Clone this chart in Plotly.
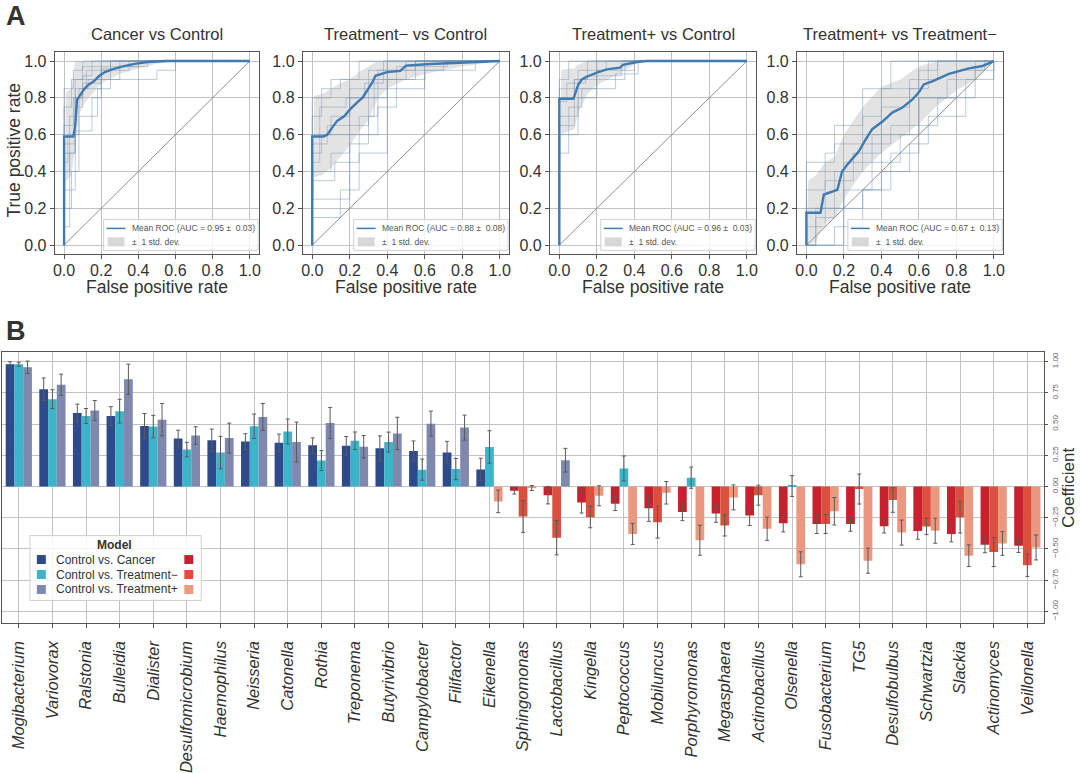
import plotly.graph_objects as go

W, H = 1080, 773
FONT = "Liberation Sans, Arial, sans-serif"
TXT = "#333333"

# ---------------- Panel A data ----------------
roc_titles = ["Cancer vs Control", "Treatment− vs Control", "Treatment+ vs Control", "Treatment+ vs Treatment−"]
auc_labels = ["Mean ROC (AUC = 0.95 ±\u00a0 0.03)", "Mean ROC (AUC = 0.88 ±\u00a0 0.08)",
              "Mean ROC (AUC = 0.96 ±\u00a0 0.03)", "Mean ROC (AUC = 0.67 ±\u00a0 0.13)"]
std_label = "±\u00a0 1 std. dev."
chance = [0.0, 1.0]

mean_fpr_1 = [0, 0, 0.05, 0.06, 0.07, 0.09, 0.11, 0.13, 0.16, 0.19, 0.22, 0.26, 0.31, 0.38, 0.45, 0.55, 1.0]
mean_tpr_1 = [0, 0.59, 0.59, 0.65, 0.79, 0.82, 0.85, 0.87, 0.89, 0.92, 0.94, 0.955, 0.97, 0.985, 0.995, 1.0, 1.0]
mean_fpr_2 = [0, 0, 0.06, 0.08, 0.107, 0.133, 0.17, 0.204, 0.24, 0.267, 0.293, 0.32, 0.337, 0.4, 0.47, 0.5, 0.63, 0.8, 1.0]
mean_tpr_2 = [0, 0.59, 0.59, 0.6, 0.64, 0.675, 0.70, 0.74, 0.776, 0.80, 0.84, 0.884, 0.92, 0.94, 0.947, 0.975, 0.984, 0.992, 1.0]
mean_fpr_3 = [0, 0, 0.075, 0.085, 0.1, 0.12, 0.146, 0.2, 0.253, 0.324, 0.34, 0.413, 0.466, 1.0]
mean_tpr_3 = [0, 0.795, 0.795, 0.83, 0.87, 0.90, 0.915, 0.937, 0.955, 0.964, 0.98, 0.995, 1.0, 1.0]
mean_fpr_4 = [0, 0, 0.075, 0.093, 0.165, 0.19, 0.226, 0.28, 0.316, 0.351, 0.404, 0.458, 0.51, 0.564, 0.6, 0.626, 0.671, 0.76, 0.867, 0.938, 1.0]
mean_tpr_4 = [0, 0.176, 0.176, 0.275, 0.30, 0.40, 0.447, 0.51, 0.574, 0.63, 0.67, 0.72, 0.746, 0.79, 0.83, 0.873, 0.89, 0.93, 0.96, 0.973, 1.0]

band_fpr_1 = [0, 0.01, 0.04, 0.06, 0.08, 0.1, 0.15, 0.2, 0.3, 0.4, 0.5, 0.6, 1.0]
band_lo_1 = [0, 0.35, 0.38, 0.55, 0.70, 0.76, 0.82, 0.88, 0.93, 0.96, 0.985, 1.0, 1.0]
band_hi_1 = [0, 0.83, 0.85, 1.0, 1.0, 1.0, 1.0, 1.0, 1.0, 1.0, 1.0, 1.0, 1.0]
band_fpr_2 = [0, 0.01, 0.05, 0.1, 0.15, 0.2, 0.25, 0.3, 0.35, 0.4, 0.5, 0.6, 0.7, 0.8, 0.9, 1.0]
band_lo_2 = [0, 0.37, 0.38, 0.42, 0.48, 0.54, 0.62, 0.68, 0.80, 0.85, 0.90, 0.93, 0.95, 0.97, 0.985, 1.0]
band_hi_2 = [0, 0.81, 0.82, 0.85, 0.88, 0.90, 0.94, 0.97, 1.0, 1.0, 1.0, 1.0, 1.0, 1.0, 1.0, 1.0]
band_fpr_3 = [0, 0.01, 0.05, 0.08, 0.1, 0.15, 0.2, 0.3, 0.4, 0.45, 1.0]
band_lo_3 = [0, 0.60, 0.62, 0.63, 0.72, 0.82, 0.87, 0.92, 0.98, 1.0, 1.0]
band_hi_3 = [0, 0.95, 0.96, 0.96, 0.98, 1.0, 1.0, 1.0, 1.0, 1.0, 1.0]
band_fpr_4 = [0, 0.01, 0.05, 0.1, 0.15, 0.2, 0.3, 0.4, 0.5, 0.6, 0.7, 0.8, 0.9, 1.0]
band_lo_4 = [0, 0.0, 0.02, 0.12, 0.15, 0.25, 0.40, 0.50, 0.58, 0.66, 0.76, 0.84, 0.90, 1.0]
band_hi_4 = [0, 0.35, 0.38, 0.45, 0.48, 0.60, 0.75, 0.86, 0.90, 0.97, 1.0, 1.0, 1.0, 1.0]

# individual cross-validation folds (step curves: at fpr x the tpr jumps to y)
folds_1 = [
    ([0, 0, 0.06, 0.12, 0.25, 1], [0, 0.55, 0.85, 0.95, 1, 1]),
    ([0, 0, 0.03, 0.06, 0.2, 0.35, 1], [0, 0.4, 0.7, 0.9, 0.95, 1, 1]),
    ([0, 0, 0.05, 0.1, 0.2, 0.5, 0.6, 1], [0, 0.65, 0.8, 0.85, 0.9, 0.95, 1, 1]),
    ([0, 0, 0.06, 0.1, 0.15, 1], [0, 0.3, 0.8, 0.92, 1, 1]),
    ([0, 0, 0.04, 0.1, 0.4, 1], [0, 0.75, 0.9, 0.97, 1, 1]),
    ([0, 0, 0.06, 0.15, 0.2, 0.3, 0.45, 1], [0, 0.5, 0.62, 0.8, 0.9, 0.97, 1, 1]),
    ([0, 0, 0.05, 0.1, 1], [0, 0.85, 0.95, 1, 1]),
    ([0, 0, 0.03, 0.06, 0.1, 0.2, 0.3, 1], [0, 0.1, 0.5, 0.75, 0.88, 0.96, 1, 1]),
    ([0, 0, 0.02, 0.08, 0.18, 0.25, 1], [0, 0.45, 0.6, 0.7, 0.85, 1, 1]),
    ([0, 0, 0.04, 0.08, 0.13, 0.2, 1], [0, 0.2, 0.4, 0.85, 0.9, 1, 1]),
]
folds_2 = [
    ([0, 0, 0.1, 0.2, 0.35, 0.5, 1], [0, 0.6, 0.7, 0.85, 0.95, 1, 1]),
    ([0, 0, 0.1, 0.2, 0.3, 0.4, 0.6, 0.7, 1], [0, 0.4, 0.5, 0.65, 0.8, 0.9, 0.95, 1, 1]),
    ([0, 0, 0.05, 0.15, 0.25, 1], [0, 0.7, 0.85, 0.9, 1, 1]),
    ([0, 0, 0.12, 0.25, 0.35, 0.45, 0.55, 1], [0, 0.35, 0.45, 0.6, 0.75, 0.9, 1, 1]),
    ([0, 0, 0.1, 0.3, 0.4, 1], [0, 0.8, 0.9, 0.95, 1, 1]),
    ([0, 0, 0.05, 0.25, 0.33, 0.5, 0.87, 1], [0, 0.5, 0.6, 0.7, 0.9, 0.95, 1, 1]),
    ([0, 0, 0.15, 0.25, 0.4, 0.55, 1], [0, 0.15, 0.3, 0.5, 0.95, 1, 1]),
    ([0, 0, 0.08, 0.2, 0.3, 0.45, 0.72, 1], [0, 0.55, 0.65, 0.8, 0.9, 0.97, 1, 1]),
    ([0, 0, 0.04, 0.18, 0.28, 0.38, 1], [0, 0.45, 0.75, 0.8, 0.88, 1, 1]),
    ([0, 0, 0.2, 0.3, 0.35, 0.6, 1], [0, 0.25, 0.55, 0.7, 0.85, 1, 1]),
]
folds_3 = [
    ([0, 0, 0.08, 0.15, 1], [0, 0.8, 0.9, 1, 1]),
    ([0, 0, 0.1, 0.2, 0.4, 1], [0, 0.6, 0.85, 0.95, 1, 1]),
    ([0, 0, 0.05, 1], [0, 0.9, 1, 1]),
    ([0, 0, 0.05, 0.12, 0.3, 0.42, 1], [0, 0.5, 0.75, 0.85, 0.93, 1, 1]),
    ([0, 0, 0.1, 0.2, 0.35, 1], [0, 0.7, 0.8, 0.9, 1, 1]),
    ([0, 0, 0.1, 0.25, 1], [0, 0.85, 0.95, 1, 1]),
    ([0, 0, 0.08, 0.2, 1], [0, 0.65, 0.9, 1, 1]),
    ([0, 0, 0.04, 0.14, 0.33, 1], [0, 0.78, 0.88, 0.92, 1, 1]),
]
folds_4 = [
    ([0, 0, 0.1, 0.25, 0.4, 0.55, 0.7, 1], [0, 0.1, 0.35, 0.5, 0.75, 0.9, 1, 1]),
    ([0, 0.05, 0.2, 0.35, 0.5, 0.6, 0.8, 0.95, 1], [0, 0.2, 0.3, 0.45, 0.6, 0.8, 0.95, 1, 1]),
    ([0, 0, 0.1, 0.15, 0.3, 0.45, 1], [0, 0.3, 0.5, 0.65, 0.85, 1, 1]),
    ([0, 0.2, 0.3, 0.4, 0.55, 0.65, 0.85, 1], [0, 0.2, 0.3, 0.4, 0.55, 0.7, 0.9, 1]),
    ([0, 0, 0.15, 0.3, 0.4, 0.6, 0.7, 1], [0, 0.45, 0.55, 0.7, 0.85, 0.95, 1, 1]),
    ([0, 0.05, 0.15, 0.3, 0.45, 0.6, 0.75, 0.9, 1], [0, 0.15, 0.4, 0.55, 0.65, 0.8, 0.9, 1, 1]),
    ([0, 0, 0.2, 0.35, 0.55, 0.65, 1], [0, 0.2, 0.45, 0.6, 0.85, 1, 1]),
    ([0, 0.15, 0.3, 0.45, 0.6, 0.7, 0.9, 1], [0, 0.1, 0.3, 0.5, 0.65, 0.8, 0.95, 1]),
]

# ---------------- Panel B data ----------------
genera = ["Mogibacterium", "Variovorax", "Ralstonia", "Bulleidia", "Dialister", "Desulfomicrobium",
          "Haemophilus", "Neisseria", "Catonella", "Rothia", "Treponema", "Butyrivibrio",
          "Campylobacter", "Filifactor", "Eikenella", "Sphingomonas", "Lactobacillus", "Kingella",
          "Peptococcus", "Mobiluncus", "Porphyromonas", "Megasphaera", "Actinobacillus", "Olsenella",
          "Fusobacterium", "TG5", "Desulfobulbus", "Schwartzia", "Slackia", "Actinomyces", "Veillonella"]
models = ["Control vs. Cancer", "Control vs. Treatment−", "Control vs. Treatment+"]

coef_cancer = [0.98, 0.78, 0.59, 0.565, 0.485, 0.385, 0.37, 0.36, 0.35, 0.33, 0.327, 0.306, 0.285,
               0.272, 0.137, -0.034, -0.069, -0.127, -0.137, -0.174, -0.203, -0.216, -0.232, -0.293,
               -0.30, -0.30, -0.317, -0.356, -0.38, -0.467, -0.475]
coef_tminus = [0.98, 0.70, 0.565, 0.604, 0.48, 0.296, 0.272, 0.483, 0.441, 0.208, 0.367, 0.356, 0.135,
               0.14, 0.317, -0.24, -0.41, -0.245, 0.145, -0.285, 0.071, -0.311, -0.069, 0.004,
               -0.30, -0.02, -0.108, -0.319, -0.245, -0.525, -0.63]
coef_tplus = [0.955, 0.815, 0.609, 0.86, 0.536, 0.409, 0.388, 0.557, 0.356, 0.509, 0.319, 0.425, 0.504,
              0.472, -0.119, -0.012, 0.211, -0.074, -0.38, -0.05, -0.43, -0.087, -0.338, -0.623,
              -0.198, -0.594, -0.369, -0.354, -0.554, -0.456, -0.488]
err_cancer = [0.02, 0.09, 0.07, 0.075, 0.10, 0.066, 0.09, 0.063, 0.07, 0.06, 0.074, 0.10, 0.08, 0.09,
              0.09, 0.026, 0.07, 0.085, 0.055, 0.105, 0.07, 0.07, 0.08, 0.07, 0.076, 0.058, 0.055,
              0.066, 0.063, 0.063, 0.053]
err_tminus = [0.016, 0.075, 0.06, 0.095, 0.09, 0.058, 0.13, 0.098, 0.10, 0.08, 0.07, 0.08, 0.085, 0.085,
              0.13, 0.127, 0.137, 0.085, 0.10, 0.127, 0.085, 0.085, 0.08, 0.083, 0.076, 0.12, 0.098,
              0.066, 0.127, 0.116, 0.09]
err_tplus = [0.05, 0.085, 0.08, 0.12, 0.13, 0.07, 0.12, 0.108, 0.16, 0.125, 0.09, 0.13, 0.10, 0.10,
             0.09, 0.02, 0.095, 0.08, 0.085, 0.09, 0.12, 0.10, 0.093, 0.10, 0.11, 0.10, 0.10, 0.10,
             0.087, 0.095, 0.10]

pos_colors = ["#2F4A8A", "#3DB4C9", "#7E89AD"]
neg_colors = ["#C8202C", "#DA4F3D", "#EB9880"]
MEAN_COLOR = "#3F7AB2"
BAND_COLOR = "rgba(170,170,170,0.33)"

# ---------------- helpers ----------------
def px(x):
    return x / W

def py(y):
    return 1 - y / H

annotations = []
shapes = []

def ann(text, x, y, size, color=TXT, xanchor="center", angle=0):
    annotations.append(dict(text=text, x=px(x), y=py(y), xref="paper", yref="paper",
                            xanchor=xanchor, yanchor="middle", textangle=angle, showarrow=False,
                            font=dict(size=size, color=color, family=FONT)))

def rect(x0, x1, y0, y1, fill, line=None):
    shapes.append(dict(type="rect", xref="paper", yref="paper", x0=px(x0), x1=px(x1), y0=py(y1), y1=py(y0),
                       fillcolor=fill, line=line or dict(width=0), layer="above"))

fig = go.Figure()

roc_dom_x = [(53, 258), (302, 509), (550, 757), (798, 1005)]
roc_dom_y = (52, 255)
panels = [
    (mean_fpr_1, mean_tpr_1, band_fpr_1, band_lo_1, band_hi_1, folds_1),
    (mean_fpr_2, mean_tpr_2, band_fpr_2, band_lo_2, band_hi_2, folds_2),
    (mean_fpr_3, mean_tpr_3, band_fpr_3, band_lo_3, band_hi_3, folds_3),
    (mean_fpr_4, mean_tpr_4, band_fpr_4, band_lo_4, band_hi_4, folds_4),
]

layout_axes = {}
for i, (mf, mt, bf, blo, bhi, folds) in enumerate(panels):
    n = i + 1
    xa = "x" if n == 1 else f"x{n}"
    ya = "y" if n == 1 else f"y{n}"
    for ff, tt in folds:
        fig.add_trace(go.Scatter(x=ff, y=tt, mode="lines", line=dict(color="rgba(100,140,180,0.5)", width=0.9, shape="hv"),
                                 xaxis=xa, yaxis=ya, showlegend=False, hoverinfo="skip"))
    fig.add_trace(go.Scatter(x=chance, y=chance, mode="lines", line=dict(color="#8f8f8f", width=1),
                             xaxis=xa, yaxis=ya, showlegend=False, hoverinfo="skip"))
    fig.add_trace(go.Scatter(x=bf, y=blo, mode="lines", line=dict(width=0), xaxis=xa, yaxis=ya,
                             showlegend=False, hoverinfo="skip"))
    fig.add_trace(go.Scatter(x=bf, y=bhi, mode="lines", line=dict(width=0), fill="tonexty",
                             fillcolor=BAND_COLOR, xaxis=xa, yaxis=ya, showlegend=False, name=std_label))
    fig.add_trace(go.Scatter(x=mf, y=mt, mode="lines", line=dict(color=MEAN_COLOR, width=2.4),
                             xaxis=xa, yaxis=ya, showlegend=False, name=auc_labels[i]))
    x0, x1 = roc_dom_x[i]
    axcommon = dict(range=[-0.05, 1.05], showgrid=True, gridcolor="#c2c2c2", gridwidth=1,
                    showline=True, mirror=True, linecolor="#555555", linewidth=1.2,
                    ticks="outside", ticklen=4, tickcolor="#555555", zeroline=False,
                    tickvals=[0, 0.2, 0.4, 0.6, 0.8, 1.0], tickformat=".1f",
                    tickfont=dict(size=16, color=TXT, family=FONT))
    layout_axes["xaxis" if n == 1 else f"xaxis{n}"] = dict(axcommon, domain=[px(x0), px(x1)], anchor=ya,
                                                          ticklabelstandoff=-3)
    layout_axes["yaxis" if n == 1 else f"yaxis{n}"] = dict(axcommon, domain=[py(roc_dom_y[1]), py(roc_dom_y[0])], anchor=xa)
    cx = (x0 + x1) / 2
    ann(roc_titles[i], cx, 34, 16.5)
    ann("False positive rate", cx, 288, 17.5)
    # in-panel legend box
    lx0 = x1 - 156
    rect(lx0, x1 - 1, 220, 251, "rgba(255,255,255,0.8)", dict(color="#d0d0d0", width=1))
    shapes.append(dict(type="line", xref="paper", yref="paper", x0=px(lx0 + 3), x1=px(lx0 + 22),
                       y0=py(229), y1=py(229), line=dict(color=MEAN_COLOR, width=1.5), layer="above"))
    rect(lx0 + 4, lx0 + 21, 238, 247, "rgba(205,205,205,0.8)")
    ann(auc_labels[i], lx0 + 26, 229, 8.5, color="#555555", xanchor="left")
    ann(std_label, lx0 + 26, 242.5, 8.5, color="#555555", xanchor="left")

ann("True positive rate", 12, 150, 17.5, angle=-90)
ann("<b>A</b>", 14, 16, 27)
ann("<b>B</b>", 14, 332, 27)

# ---------------- Panel B bars ----------------
series = [(coef_cancer, err_cancer), (coef_tminus, err_tminus), (coef_tplus, err_tplus)]
for k, (vals, errs) in enumerate(series):
    cols = [pos_colors[k] if v >= 0 else neg_colors[k] for v in vals]
    fig.add_trace(go.Bar(x=genera, y=vals, name=models[k], marker=dict(color=cols, line=dict(width=0)),
                         error_y=dict(type="data", array=errs, color="#5a5a5a", thickness=1, width=2),
                         xaxis="x5", yaxis="y5", showlegend=False))

layout_axes["xaxis5"] = dict(domain=[0, px(1046)], anchor="y5", range=[-0.5, 30.5],
                             tickvals=genera, ticktext=[f"<i>{g}</i>" for g in genera],
                             tickangle=-90, tickfont=dict(size=16.5, color=TXT, family=FONT),
                             ticklabelstandoff=6,
                             showgrid=True, gridcolor="#c2c2c2", gridwidth=1, showline=True, mirror=True,
                             linecolor="#555555", linewidth=1.2, ticks="outside", ticklen=4, tickcolor="#555555")
layout_axes["yaxis5"] = dict(domain=[py(625), py(353)], anchor="x5", side="right", range=[-1.096, 1.077],
                             tickvals=[-1, -0.75, -0.5, -0.25, 0, 0.25, 0.5, 0.75, 1.0], tickformat=".2f",
                             tickangle=-90, tickfont=dict(size=8, color="#666666", family=FONT),
                             showgrid=True, gridcolor="#c2c2c2", gridwidth=1, zeroline=False,
                             showline=True, mirror=True, linecolor="#555555", linewidth=1.2,
                             ticks="outside", ticklen=3, tickcolor="#555555")
ann("Coefficient", 1071, 489, 17, angle=-90)

# ---------------- Panel B legend (drawn) ----------------
rect(28, 200, 537, 602, "rgba(255,255,255,0.85)", dict(color="#cfcfcf", width=1))
ann("<b>Model</b>", 113, 546, 12)
for k, m in enumerate(models):
    ry = 561 + 15 * k
    rect(35, 44, ry - 4.5, ry + 4.5, pos_colors[k])
    rect(183, 192, ry - 4.5, ry + 4.5, neg_colors[k])
    ann(m, 52, ry, 12, xanchor="left")

fig.update_layout(width=W, height=H, margin=dict(l=0, r=0, t=0, b=0), paper_bgcolor="white",
                  plot_bgcolor="white", barmode="group", bargap=0.22, bargroupgap=0,
                  font=dict(family=FONT, color=TXT), annotations=annotations, shapes=shapes,
                  showlegend=False, **layout_axes)

fig.write_html("out.html", config={"displayModeBar": False},
               post_script="document.body.style.margin='0';document.body.style.overflow='hidden';")
